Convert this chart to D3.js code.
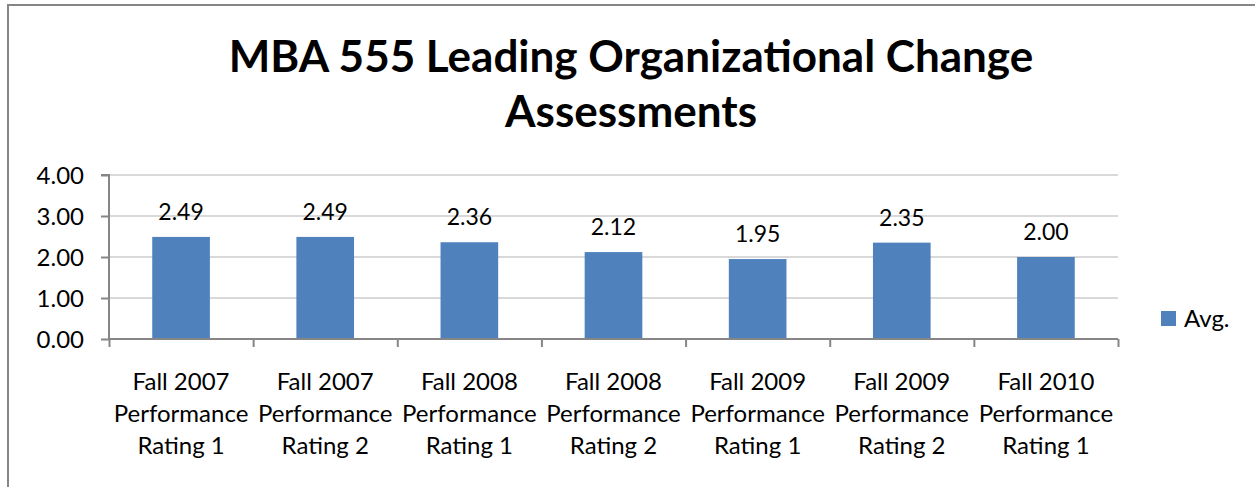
<!DOCTYPE html>
<html>
<head>
<meta charset="utf-8">
<script src="https://cdn.jsdelivr.net/npm/d3@7"></script>
<style>
  html, body { margin: 0; padding: 0; background: #fff; }
  svg { display: block; }
  text { font-family: Lato, "Open Sans", sans-serif; fill: #000; }
</style>
</head>
<body>
<svg id="chart" width="1255" height="487"></svg>
<script>
const categories = [
  ["Fall 2007", "Performance", "Rating 1"],
  ["Fall 2007", "Performance", "Rating 2"],
  ["Fall 2008", "Performance", "Rating 1"],
  ["Fall 2008", "Performance", "Rating 2"],
  ["Fall 2009", "Performance", "Rating 1"],
  ["Fall 2009", "Performance", "Rating 2"],
  ["Fall 2010", "Performance", "Rating 1"]
];
const avgValues = [2.49, 2.49, 2.36, 2.12, 1.95, 2.35, 2.00];
const yTicks = [0, 1, 2, 3, 4];
const titleLines = ["MBA 555 Leading Organizational Change", "Assessments"];
const seriesName = "Avg.";

const svg = d3.select("#chart");
const W = 1255, H = 487;

svg.append("rect")
  .attr("x", 8).attr("y", 5)
  .attr("width", W + 20).attr("height", H + 20)
  .attr("fill", "#fff").attr("stroke", "#868686").attr("stroke-width", 2);

const plot = { left: 109, right: 1118, top: 175, bottom: 339 };
const ids = categories.map((d, i) => i);
const x = d3.scaleBand().domain(ids).range([plot.left, plot.right]).paddingInner(0.6).paddingOuter(0.3);
const xBound = d3.scaleLinear().domain([0, categories.length]).range([plot.left, plot.right]);
const y = d3.scaleLinear().domain([0, 4]).range([plot.bottom, plot.top]);

svg.append("g").selectAll("text").data(titleLines).join("text")
  .attr("x", 631).attr("y", (d, i) => 72 + i * 55)
  .attr("text-anchor", "middle")
  .attr("font-weight", "bold").attr("font-size", 44)
  .text(d => d);

svg.append("g").selectAll("line").data(yTicks.filter(t => t > 0)).join("line")
  .attr("x1", plot.left).attr("x2", plot.right)
  .attr("y1", d => y(d)).attr("y2", d => y(d))
  .attr("stroke", "#d9d9d9").attr("stroke-width", 2);

svg.append("g").selectAll("rect").data(avgValues).join("rect")
  .attr("x", (d, i) => x(i)).attr("width", x.bandwidth())
  .attr("y", d => y(d)).attr("height", d => y(0) - y(d))
  .attr("fill", "#4f81bd");

svg.append("g").selectAll("text").data(avgValues).join("text")
  .attr("x", (d, i) => x(i) + x.bandwidth() / 2)
  .attr("y", d => y(d) - 17)
  .attr("text-anchor", "middle").attr("font-size", 23)
  .text(d => d.toFixed(2));

const yAxis = d3.axisLeft(y).tickValues(yTicks).tickFormat(d3.format(".2f")).tickSize(8).tickPadding(17);
const gy = svg.append("g").attr("transform", `translate(${plot.left},0)`).call(yAxis);
gy.select(".domain").attr("stroke", "#868686").attr("stroke-width", 2).attr("d", `M-8,${plot.top}H0V${plot.bottom}`);
gy.selectAll(".tick line").attr("stroke", "#868686").attr("stroke-width", 2);
gy.selectAll(".tick text").attr("font-size", 24).attr("font-family", "Lato, sans-serif").attr("fill", "#000").attr("dy", "0.35em");

const xAxis = d3.axisBottom(xBound).tickValues(d3.range(0, categories.length + 1)).tickSize(8).tickFormat("");
const gx = svg.append("g").attr("transform", `translate(0,${plot.bottom})`).call(xAxis);
gx.select(".domain").attr("stroke", "#868686").attr("stroke-width", 2).attr("d", `M${plot.left},0H${plot.right}`);
gx.selectAll(".tick line").attr("stroke", "#868686").attr("stroke-width", 2);

const xl = svg.append("g").selectAll("text").data(categories).join("text")
  .attr("text-anchor", "middle").attr("font-size", 24);
xl.selectAll("tspan").data((d, i) => d.map(s => ({ s, i }))).join("tspan")
  .attr("x", d => x(d.i) + x.bandwidth() / 2)
  .attr("y", (d, j) => 390 + j * 32)
  .text(d => d.s);

const lg = svg.append("g");
lg.append("rect").attr("x", 1161).attr("y", 311).attr("width", 15).attr("height", 15).attr("fill", "#4f81bd");
lg.append("text").attr("x", 1184).attr("y", 327).attr("font-size", 24).text(seriesName);
</script>
</body>
</html>
